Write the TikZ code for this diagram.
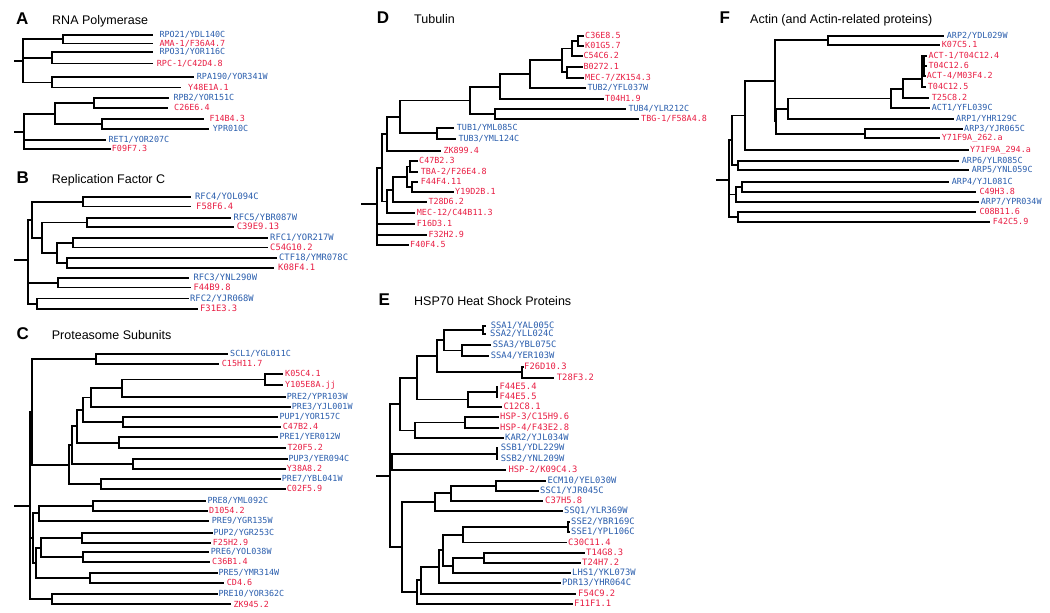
\documentclass[tikz,border=0pt]{standalone}
\usepackage{fontspec}
\newfontfamily\labfont{DejaVu Sans Mono}
\newfontfamily\ttlfont{Liberation Sans}
\definecolor{lblue}{RGB}{40,92,172}
\definecolor{lred}{RGB}{232,28,66}
\tikzset{
  br/.style={line width=1.8pt, line cap=rect},
  labA/.style={font=\labfont\fontsize{8.4}{9}\selectfont, inner sep=0pt, text height=1.5ex, text depth=0.25ex, anchor=west},
  labB/.style={labA, font=\labfont\fontsize{8.8}{10}\selectfont},
  labE/.style={labA, font=\labfont\fontsize{8.8}{10}\selectfont},
  lf/.style={labA},
  plet/.style={font=\ttlfont\bfseries\fontsize{17}{20}\selectfont, anchor=base west, inner sep=0pt},
  ptit/.style={font=\ttlfont\fontsize{12.5}{15}\selectfont, anchor=base west, inner sep=0pt},
}
% leaf: name, from x, y, line end x, label x, colour, text
\newcommand\leaf[7]{%
  \node[lf,text=#6] (#1) at (#5,#3) {#7};
  \coordinate (#1-e) at (#4,#3);
  \draw[br] (#2,#3) -- (#1-e);
}
% inner node: name, parent x, x, y top, y bottom
\newcommand\inode[5]{%
  \coordinate (#1) at (#3,{(#4+#5)/2});
  \coordinate (#1-p) at (#2,{(#4+#5)/2});
  \draw[br] (#3,#4) -- (#3,#5);
  \draw[br] (#1-p) -- (#1);
}
% root: name, stub x, x, stub y, y top, y bottom
\newcommand\rootn[6]{%
  \coordinate (#1) at (#3,#4);
  \coordinate (#1-s) at (#2,#4);
  \draw[br] (#3,#5) -- (#3,#6);
  \draw[br] (#1-s) -- (#1);
}
\begin{document}
\begin{tikzpicture}[x=1pt,y=-1pt]
\useasboundingbox (0,0) rectangle (1050,613);

% ---------------- Panel A
\node[plet] (lA) at (16,24) {A};
\node[ptit] (tA) at (52,24) {RNA Polymerase};
\tikzset{lf/.style={labA}}
\leaf{a1}{63.3}{35}{151.7}{159.3}{lblue}{RPO21/YDL140C}
\leaf{a2}{63.3}{43.5}{151.7}{159.3}{lred}{AMA-1/F36A4.7}
\inode{ag1}{22.7}{63.3}{35}{43.5}
\leaf{a3}{51.7}{52}{151.7}{159.3}{lblue}{RPO31/YOR116C}
\leaf{a4}{51.7}{63.5}{151.7}{156.7}{lred}{RPC-1/C42D4.8}
\inode{ag2}{22.7}{51.7}{52}{63.5}
\leaf{a5}{52.3}{77.3}{193.3}{196.7}{lblue}{RPA190/YOR341W}
\leaf{a6}{52.3}{87.5}{180}{188}{lred}{Y48E1A.1}
\inode{ag3}{22.7}{52.3}{77.3}{87.5}
\rootn{aR1}{15}{22.7}{60.7}{39.25}{82.4}

\leaf{a7}{94.3}{98.3}{168.3}{173.3}{lblue}{RPB2/YOR151C}
\leaf{a8}{94.3}{108.3}{166.7}{174}{lred}{C26E6.4}
\inode{ah1}{55}{94.3}{98.3}{108.3}
\leaf{a9}{101.7}{119}{203.3}{209.3}{lred}{F14B4.3}
\leaf{a10}{101.7}{129}{208.3}{212.7}{lblue}{YPR010C}
\inode{ah2}{55}{101.7}{119}{129}
\inode{ah3}{24}{55}{103.3}{124}
\leaf{a11}{24}{140}{105}{108.3}{lblue}{RET1/YOR207C}
\leaf{a12}{24}{149}{110}{111.7}{lred}{F09F7.3}
\rootn{aR2}{15}{24}{131.7}{113.65}{149}

% ---------------- Panel B
\node[plet] (lB) at (16.5,183.3) {B};
\node[ptit] (tB) at (51.7,183.3) {Replication Factor C};
\tikzset{lf/.style={labB}}
\leaf{b1}{83.3}{197}{190}{195}{lblue}{RFC4/YOL094C}
\leaf{b2}{83.3}{206.5}{190}{196}{lred}{F58F6.4}
\inode{bn1}{32.3}{83.3}{197}{206.5}
\leaf{b3}{86.7}{218}{230}{233.3}{lblue}{RFC5/YBR087W}
\leaf{b4}{86.7}{227}{233}{236.7}{lred}{C39E9.13}
\inode{bn2}{42.3}{86.7}{218}{227}
\leaf{b5}{73.3}{238}{266.7}{270}{lblue}{RFC1/YOR217W}
\leaf{b6}{73.3}{247.5}{266.7}{270}{lred}{C54G10.2}
\inode{bn3}{57.3}{73.3}{238}{247.5}
\leaf{b7}{66.7}{258}{276}{279}{lblue}{CTF18/YMR078C}
\leaf{b8}{66.7}{268}{273}{278}{lred}{K08F4.1}
\inode{bn4}{57.3}{66.7}{258}{268}
\inode{bn5}{42.3}{57.3}{242.75}{263}
\inode{bn6}{32.3}{42.3}{222.5}{252.9}
\inode{bn7}{28.3}{32.3}{201.75}{237.7}
\leaf{b9}{58.3}{278.3}{188.3}{193.3}{lblue}{RFC3/YNL290W}
\leaf{b10}{58.3}{287.5}{190}{193.3}{lred}{F44B9.8}
\inode{bn8}{28.3}{58.3}{278.3}{287.5}
\leaf{b11}{36.7}{298.5}{188}{190}{lblue}{RFC2/YJR068W}
\leaf{b12}{36.7}{309}{196.7}{200}{lred}{F31E3.3}
\inode{bn9}{28.3}{36.7}{298.5}{309}
\rootn{bR}{15}{28.3}{260}{219.7}{303.75}

% ---------------- Panel C
\node[plet] (lC) at (16.5,339.3) {C};
\node[ptit] (tC) at (51.7,339.3) {Proteasome Subunits};
\tikzset{lf/.style={labA}}
\leaf{c1}{96}{354}{226.7}{230}{lblue}{SCL1/YGL011C}
\leaf{c2}{96}{364}{218.3}{221.7}{lred}{C15H11.7}
\inode{cn1}{32.3}{96}{354}{364}
\leaf{c3}{265}{374}{281.7}{285}{lred}{K05C4.1}
\leaf{c4}{265}{385}{281.7}{285}{lred}{Y105E8A.jj}
\inode{cn2}{121.7}{265}{374}{385}
\leaf{c5}{121.7}{396.7}{285}{286.7}{lblue}{PRE2/YPR103W}
\inode{cn3}{90.7}{121.7}{379.5}{396.7}
\leaf{c6}{90.7}{406.7}{290}{291.7}{lblue}{PRE3/YJL001W}
\inode{cn4}{82.7}{90.7}{388.1}{406.7}
\leaf{c7}{123.3}{417.3}{276.7}{279.3}{lblue}{PUP1/YOR157C}
\leaf{c8}{123.3}{427.3}{280}{282.7}{lred}{C47B2.4}
\inode{cn5}{82.7}{123.3}{417.3}{427.3}
\inode{cn6}{77.3}{82.7}{397.4}{422.3}
\leaf{c9}{119.3}{437.3}{276.7}{279.3}{lblue}{PRE1/YER012W}
\leaf{c10}{119.3}{448.3}{285}{287.3}{lred}{T20F5.2}
\inode{cn7}{77.3}{119.3}{437.3}{448.3}
\inode{cn8}{71.7}{77.3}{409.85}{442.8}
\leaf{c11}{133.3}{459}{286.7}{288.3}{lblue}{PUP3/YER094C}
\leaf{c12}{133.3}{469}{285}{286.7}{lred}{Y38A8.2}
\inode{cn9}{71.7}{133.3}{459}{469}
\inode{cn10}{69.3}{71.7}{426.3}{464}
\leaf{c13}{100.7}{479.3}{280}{281.7}{lblue}{PRE7/YBL041W}
\leaf{c14}{100.7}{489.3}{285}{286.7}{lred}{C02F5.9}
\inode{cn11}{69.3}{100.7}{479.3}{489.3}
\inode{cn12}{32.3}{69.3}{445.15}{484.3}
\inode{cn13}{30}{32.3}{359}{464.7}
\leaf{c15}{92.7}{500.7}{205}{207.3}{lblue}{PRE8/YML092C}
\leaf{c16}{92.7}{510.7}{206.7}{209}{lred}{D1054.2}
\inode{cn14}{39.3}{92.7}{500.7}{510.7}
\leaf{c17}{39.3}{521}{208.3}{211.7}{lblue}{PRE9/YGR135W}
\inode{cn15}{32.7}{39.3}{505.7}{521}
\leaf{c18}{82.3}{533.3}{211.7}{213.3}{lblue}{PUP2/YGR253C}
\leaf{c19}{82.3}{543.3}{210}{212.7}{lred}{F25H2.9}
\inode{cn16}{40.7}{82.3}{533.3}{543.3}
\leaf{c20}{83.3}{552.3}{208.3}{210.7}{lblue}{PRE6/YOL038W}
\leaf{c21}{83.3}{562.3}{209.3}{212}{lred}{C36B1.4}
\inode{cn17}{40.7}{83.3}{552.3}{562.3}
\inode{cn18}{35.7}{40.7}{538.3}{557.3}
\leaf{c22}{90}{573.3}{216.7}{218.3}{lblue}{PRE5/YMR314W}
\leaf{c23}{90}{583.3}{223.3}{226.7}{lred}{CD4.6}
\inode{cn19}{35.7}{90}{573.3}{583.3}
\inode{cn20}{32.7}{35.7}{547.8}{578.3}
\inode{cn21}{30}{32.7}{513.35}{563.05}
\leaf{c24}{51.7}{594.3}{216.7}{218.3}{lblue}{PRE10/YOR362C}
\leaf{c25}{51.7}{604.3}{230}{233.3}{lred}{ZK945.2}
\inode{cn22}{30}{51.7}{594.3}{604.3}
\rootn{cR}{15}{30}{506}{411.85}{599.3}

% ---------------- Panel D
\node[plet] (lD) at (376.7,23.3) {D};
\node[ptit] (tD) at (414,23.3) {Tubulin};
\tikzset{lf/.style={labA}}
\leaf{d1}{578.3}{36}{583}{585}{lred}{C36E8.5}
\leaf{d2}{578.3}{45.7}{583}{585}{lred}{K01G5.7}
\inode{dn1}{571.7}{578.3}{36}{45.7}
\leaf{d3}{571.7}{56}{582}{583.3}{lred}{C54C6.2}
\inode{dn2}{561.7}{571.7}{40.85}{56}
\leaf{d4}{566.7}{66.7}{582}{583.3}{lred}{B0272.1}
\leaf{d5}{566.7}{77.7}{583}{585}{lred}{MEC-7/ZK154.3}
\inode{dn3}{561.7}{566.7}{66.7}{77.7}
\inode{dn4}{530}{561.7}{48.4}{72.2}
\leaf{d6}{530}{88.3}{585}{587.3}{lblue}{TUB2/YFL037W}
\inode{dn5}{500}{530}{60.3}{88.3}
\leaf{d7}{500}{99}{602.7}{605}{lred}{T04H1.9}
\inode{dn6}{470}{500}{74.3}{99}
\leaf{d8}{495}{109}{625}{628.3}{lblue}{TUB4/YLR212C}
\leaf{d9}{495}{119.3}{638.3}{641}{lred}{TBG-1/F58A4.8}
\inode{dn7}{470}{495}{109}{119.3}
\inode{dn8}{400}{470}{86.65}{114.15}
\leaf{d10}{436.7}{127.7}{453.3}{456.7}{lblue}{TUB1/YML085C}
\leaf{d11}{436.7}{139}{455}{458.3}{lblue}{TUB3/YML124C}
\inode{dn9}{400}{436.7}{127.7}{139}
\inode{dn10}{387.3}{400}{100.4}{133.35}
\leaf{d12}{387.3}{150.7}{440}{443.3}{lred}{ZK899.4}
\inode{dn11}{381.7}{387.3}{116.9}{150.7}
\leaf{d13}{410}{161}{416.7}{419}{lred}{C47B2.3}
\leaf{d14}{410}{172}{417}{420.7}{lred}{TBA-2/F26E4.8}
\inode{dn12}{407.3}{410}{161}{172}
\leaf{d15}{411.7}{182.3}{417}{420.7}{lred}{F44F4.11}
\leaf{d16}{411.7}{192.3}{452.7}{455}{lred}{Y19D2B.1}
\inode{dn13}{407.3}{411.7}{182.3}{192.3}
\inode{dn14}{393.3}{407.3}{166.5}{187.3}
\leaf{d17}{393.3}{202.3}{426}{428.3}{lred}{T28D6.2}
\inode{dn15}{386.7}{393.3}{176.9}{202.3}
\leaf{d18}{386.7}{213.3}{414.3}{416.7}{lred}{MEC-12/C44B11.3}
\inode{dn16}{381.7}{386.7}{189.6}{213.3}
\inode{dn17}{376.7}{381.7}{133.8}{201.45}
\leaf{d19}{376.7}{224}{414.3}{416.7}{lred}{F16D3.1}
\leaf{d20}{376.7}{235}{426}{428.3}{lred}{F32H2.9}
\leaf{d21}{376.7}{245.3}{408}{410}{lred}{F40F4.5}
\rootn{dR}{361.7}{376.7}{204.3}{167.6}{245.3}

% ---------------- Panel E
\node[plet] (lE) at (378.3,305) {E};
\node[ptit] (tE) at (414,305) {HSP70 Heat Shock Proteins};
\tikzset{lf/.style={labE}}
\leaf{e1}{483.3}{325.7}{485}{490.7}{lblue}{SSA1/YAL005C}
\leaf{e2}{483.3}{334}{485}{490}{lblue}{SSA2/YLL024C}
\inode{en1}{444}{483.3}{325.7}{334}
\leaf{e3}{461.7}{345}{490}{492.7}{lblue}{SSA3/YBL075C}
\leaf{e4}{461.7}{356}{488.3}{490.7}{lblue}{SSA4/YER103W}
\inode{en2}{444}{461.7}{345}{356}
\inode{en3}{436.7}{444}{329.85}{350.5}
\leaf{e5}{521.7}{366.7}{523}{524}{lred}{F26D10.3}
\leaf{e6}{521.7}{377.7}{553.3}{556.7}{lred}{T28F3.2}
\inode{en4}{436.7}{521.7}{366.7}{377.7}
\inode{en5}{416.7}{436.7}{340.2}{372.2}
\leaf{e7}{496.7}{386.7}{497.5}{499.3}{lred}{F44E5.4}
\leaf{e8}{496.7}{396.7}{497.5}{499.3}{lred}{F44E5.5}
\inode{en6}{468.3}{496.7}{386.7}{396.7}
\leaf{e9}{468.3}{407.3}{501}{503.3}{lred}{C12C8.1}
\inode{en7}{416.7}{468.3}{391.7}{407.3}
\inode{en8}{400}{416.7}{356.2}{399.5}
\leaf{e10}{465}{417.3}{498}{500}{lred}{HSP-3/C15H9.6}
\leaf{e11}{465}{427.7}{498}{500}{lred}{HSP-4/F43E2.8}
\inode{en9}{415}{465}{417.3}{427.7}
\leaf{e12}{415}{438.3}{503}{505}{lblue}{KAR2/YJL034W}
\inode{en10}{400}{415}{422.5}{438.3}
\inode{en11}{390}{400}{377.85}{430.4}
\leaf{e13}{496.7}{448.3}{497.5}{500.7}{lblue}{SSB1/YDL229W}
\leaf{e14}{496.7}{459}{497.5}{500.7}{lblue}{SSB2/YNL209W}
\inode{en12}{391.7}{496.7}{448.3}{459}
\leaf{e15}{391.7}{470}{505}{508.3}{lred}{HSP-2/K09C4.3}
\inode{en13}{390}{391.7}{453.65}{470}
\leaf{e16}{496}{480.7}{545}{547.3}{lblue}{ECM10/YEL030W}
\leaf{e17}{496}{490.7}{538.3}{540}{lblue}{SSC1/YJR045C}
\inode{en14}{450.7}{496}{480.7}{490.7}
\leaf{e18}{450.7}{501}{541.7}{545}{lred}{C37H5.8}
\inode{en15}{435}{450.7}{485.7}{501}
\leaf{e19}{435}{510.7}{561.7}{564}{lblue}{SSQ1/YLR369W}
\inode{en16}{401.7}{435}{493.35}{510.7}
\leaf{e20}{568.3}{522}{569}{571}{lblue}{SSE2/YBR169C}
\leaf{e21}{568.3}{532}{569}{571}{lblue}{SSE1/YPL106C}
\inode{en17}{462.7}{568.3}{522}{532}
\leaf{e22}{462.7}{542.5}{566}{568}{lred}{C30C11.4}
\inode{en18}{443.3}{462.7}{527}{542.5}
\leaf{e23}{484.3}{553}{584}{586}{lred}{T14G8.3}
\leaf{e24}{484.3}{563}{580}{582}{lred}{T24H7.2}
\inode{en19}{453.3}{484.3}{553}{563}
\leaf{e25}{453.3}{573.3}{570}{572}{lblue}{LHS1/YKL073W}
\inode{en20}{443.3}{453.3}{558}{573.3}
\inode{en21}{439.3}{443.3}{534.75}{565.65}
\leaf{e26}{439.3}{583.3}{560}{562}{lblue}{PDR13/YHR064C}
\inode{en22}{420.7}{439.3}{550.2}{583.3}
\leaf{e27}{420.7}{594}{575}{578}{lred}{F54C9.2}
\inode{en23}{416.7}{420.7}{566.75}{594}
\leaf{e28}{416.7}{604}{571.7}{574}{lred}{F11F1.1}
\inode{en24}{401.7}{416.7}{580.4}{604}
\inode{en25}{390}{401.7}{502}{592.2}
\rootn{eR}{376.7}{390}{476}{404.1}{547.1}

% ---------------- Panel F
\node[plet] (lF) at (719.3,23.3) {F};
\node[ptit] (tF) at (750,23.3) {Actin (and Actin-related proteins)};
\tikzset{lf/.style={labA}}
\leaf{f1}{828.3}{35.7}{943.3}{946.7}{lblue}{ARP2/YDL029W}
\leaf{f2}{828.3}{45}{939.3}{941.7}{lred}{K07C5.1}
\inode{fn1}{775}{828.3}{35.7}{45}
\leaf{f3}{922}{55.7}{926}{928.3}{lred}{ACT-1/T04C12.4}
\leaf{f4}{922}{65.7}{926}{928.3}{lred}{T04C12.6}
\leaf{f5}{922}{76}{925}{926.7}{lred}{ACT-4/M03F4.2}
\leaf{f6}{922}{86.7}{925}{927.7}{lred}{T04C12.5}
\coordinate (fc) at (922,79.3);
\draw[br] (922,55.7) -- (922,86.7);
\draw[line width=3.2pt] (923,57) -- (923,77);
\leaf{f7}{903.3}{98.3}{928.3}{931.7}{lred}{T25C8.2}
\inode{fn3}{891}{903.3}{79.3}{98.3}
\draw[br] (903.3,79.3) -- (fc);
\leaf{f8}{891}{108.3}{929.3}{931.7}{lblue}{ACT1/YFL039C}
\inode{fn4}{787.7}{891}{88.8}{108.3}
\leaf{f9}{787.7}{119}{953.3}{956}{lblue}{ARP1/YHR129C}
\inode{fn5}{776}{787.7}{98.55}{119}
\leaf{f10}{865}{129}{961.7}{964}{lblue}{ARP3/YJR065C}
\leaf{f11}{865}{138.3}{939.3}{941.7}{lred}{Y71F9A\_262.a}
\inode{fn6}{776}{865}{129}{138.3}
\inode{fn7}{775}{776}{108.8}{133.65}
\inode{fn8}{745}{775}{40.35}{121.2}
\leaf{f12}{745}{150}{968.3}{970}{lred}{Y71F9A\_294.a}
\inode{fn9}{731.7}{745}{80.8}{150}
\leaf{f13}{737.7}{160.7}{958.3}{961.7}{lblue}{ARP6/YLR085C}
\leaf{f14}{737.7}{170}{968.3}{971.7}{lblue}{ARP5/YNL059C}
\inode{fn10}{731.7}{737.7}{160.7}{170}
\inode{fn11}{729}{731.7}{115.4}{165.35}
\leaf{f15}{741.7}{181.7}{948.3}{951.7}{lblue}{ARP4/YJL081C}
\leaf{f16}{741.7}{191.7}{975}{979.3}{lred}{C49H3.8}
\inode{fn12}{735.7}{741.7}{181.7}{191.7}
\leaf{f17}{735.7}{202.3}{978.3}{980.7}{lblue}{ARP7/YPR034W}
\inode{fn13}{729}{735.7}{186.7}{202.3}
\leaf{f18}{737.7}{212.3}{975}{979.3}{lred}{C08B11.6}
\leaf{f19}{737.7}{222.3}{989.3}{992.7}{lred}{F42C5.9}
\inode{fn14}{729}{737.7}{212.3}{222.3}
\rootn{fR}{716.7}{729}{180}{140.4}{217.3}
\end{tikzpicture}
\end{document}
